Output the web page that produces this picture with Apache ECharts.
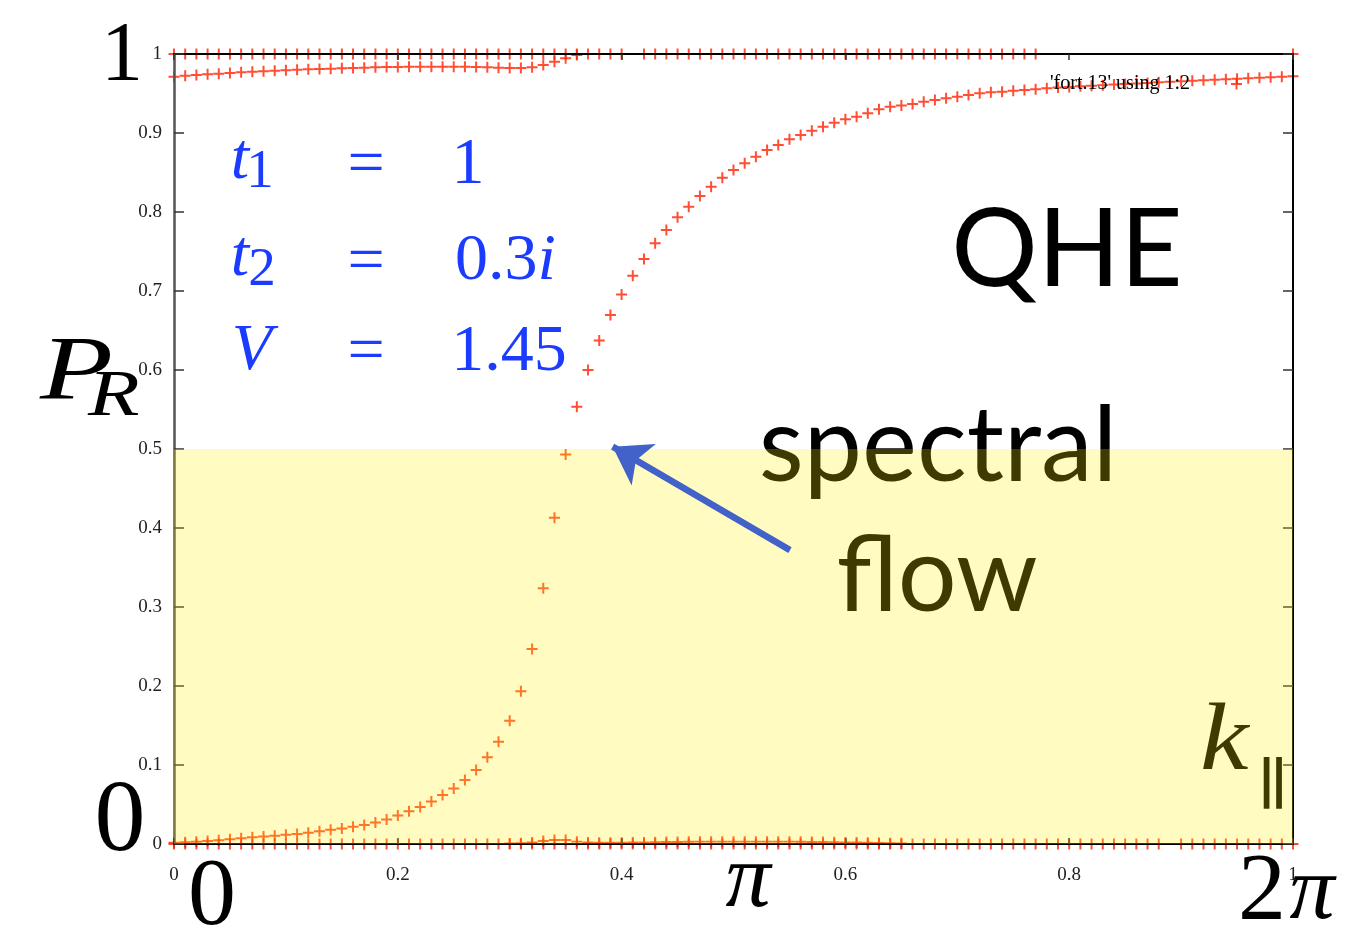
<!DOCTYPE html>
<html><head><meta charset="utf-8">
<script src="https://cdn.jsdelivr.net/npm/echarts@6/dist/echarts.min.js"></script>
<style>html,body{margin:0;padding:0;background:#fff}#c{width:1356px;height:930px}</style>
</head><body><div id="c"></div>
<script>
// k grid (x values, fraction of 2π)
const kGrid = [0,0.01,0.02,0.03,0.04,0.05,0.06,0.07,0.08,0.09,
 0.10,0.11,0.12,0.13,0.14,0.15,0.16,0.17,0.18,0.19,
 0.20,0.21,0.22,0.23,0.24,0.25,0.26,0.27,0.28,0.29,
 0.30,0.31,0.32,0.33,0.34,0.35,0.36,0.37,0.38,0.39,
 0.40,0.41,0.42,0.43,0.44,0.45,0.46,0.47,0.48,0.49,
 0.50,0.51,0.52,0.53,0.54,0.55,0.56,0.57,0.58,0.59,
 0.60,0.61,0.62,0.63,0.64,0.65,0.66,0.67,0.68,0.69,
 0.70,0.71,0.72,0.73,0.74,0.75,0.76,0.77,0.78,0.79,
 0.80,0.81,0.82,0.83,0.84,0.85,0.86,0.87,0.88,0.89,
 0.90,0.91,0.92,0.93,0.94,0.95,0.96,0.97,0.98,0.99,1.00];

// P_R of the state pinned at 1
const bandTop = [1,1,1,1,1,1,1,1,1,1, 1,1,1,1,1,1,1,1,1,1, 1,1,1,1,1,1,1,1,1,1, 1,1,1,1,1,1,1,1,1,1,
 1,null,1,1,1,1,1,1,1,1, 1,1,1,1,1,1,1,1,1,1, 1,1,1,1,1,1,1,1,1,1, 1,1,1,1,1,1,1,1,null,null,
 null,null,null,null,null,null,null,null,null,null, null,null,null,null,null,null,null,null,null,null, 1];
// upper state near 0.97 merging into 1 (starts at k index 0)
const bandUpper = [0.9713,0.9726,0.9734,0.9743,0.9751,0.9759,0.9768,0.9776,0.9781,0.9789,
 0.9793,0.9802,0.9806,0.9810,0.9814,0.9819,0.9823,0.9827,0.9831,0.9835,
 0.9835,0.9840,0.9840,0.9840,0.9840,0.9840,0.9840,0.9835,0.9831,0.9827,
 0.9823,0.9823,0.9831,0.9861,0.9903,0.9945,0.9987];
// spectral-flow state
const bandFlow = [0.0016,0.0022,0.0029,0.0038,0.0047,0.0059,0.0072,0.0085,0.0095,0.0105,
 0.0116,0.0127,0.0143,0.0162,0.0180,0.0196,0.0218,0.0241,0.0272,0.0310,
 0.0361,0.0415,0.0468,0.0538,0.0620,0.0703,0.0810,0.0937,0.1097,0.1295,
 0.1561,0.1933,0.2468,0.3237,0.4130,0.4930,0.5535,0.6000,0.6373,0.6696,
 0.6956,0.7194,0.7405,0.7604,0.7772,0.7933,0.8067,0.8203,0.8320,0.8434,
 0.8532,0.8616,0.8700,0.8785,0.8848,0.8920,0.8975,0.9029,0.9080,0.9130,
 0.9173,0.9206,0.9249,0.9300,0.9333,0.9348,0.9367,0.9396,0.9418,0.9439,
 0.9459,0.9481,0.9503,0.9515,0.9523,0.9535,0.9544,0.9553,0.9566,0.9575,
 0.9582,0.9591,0.9599,0.9606,0.9614,0.9620,0.9628,0.9634,0.9642,0.9648,
 0.9654,0.9661,0.9667,0.9673,0.9680,0.9686,0.9692,0.9699,0.9705,0.9711,0.9718];
// state pinned at 0
const bandZero = [0,0,0,0,0,0,0,0,0,0, 0,0,0,0,0,0,0,0,0,0, 0,0,0,0,0,0,0,0,0,0, 0,0,0,0,0,0,0,0,0,0,
 0,0,0,0,0,0,0,0,0,0, 0,0,0,0,0,0,0,0,0,0, 0,0,0,0,0,0,0,0,0,0, 0,0,0,0,0,0,0,0,0,0,
 0,0,0,0,0,0,0,0,0,null, 0,0,0,0,0,0,0,0,0,0, 0];
// small bump near 0 (starts at k index 30)
const bumpStart = 30;
const bandBump = [0.0005,0.0010,0.0020,0.0038,0.0050,0.0050,0.0030,0.0018,0.0015,0.0015,
 0.0016,0.0018,0.0020,0.0022,0.0024,0.0026,0.0028,0.0030,0.0030,0.0030,
 0.0030,0.0030,0.0030,0.0030,0.0030,0.0030,0.0028,0.0026,0.0024,0.0022,
 0.0020,0.0018,0.0015,0.0012,0.0010,0.0008];

const xTickLabels = ['0','0.2','0.4','0.6','0.8','1'];
const yTickLabels = ['0','0.1','0.2','0.3','0.4','0.5','0.6','0.7','0.8','0.9','1'];
const seriesName = "'fort.13' using 1:2";

function toPts(arr, start) {
  const out = [];
  arr.forEach((v, j) => { if (v !== null) out.push([kGrid[start + j], v]); });
  return out;
}
const allPts = [].concat(toPts(bandZero,0), toPts(bandBump,bumpStart), toPts(bandFlow,0), toPts(bandUpper,0), toPts(bandTop,0));

const plus = 'path://M4.1,0H5.9V4.1H10V5.9H5.9V10H4.1V5.9H0V4.1H4.1Z';
const SERIF = '"Liberation Serif", "DejaVu Serif", serif';
const SANS = 'Lato, "Open Sans", sans-serif';
const BLUE = '#1b3cff';

function T(x, y, text, size, opts) {
  opts = opts || {};
  return {
    type: 'text', z: opts.z || 3, silent: true,
    x: x, y: y, scaleX: opts.sx || 1, originX: 0, originY: 0,
    style: {
      text: text, fontSize: size, fontFamily: opts.family || SERIF,
      fontStyle: opts.italic ? 'italic' : 'normal',
      fill: opts.color || '#000', align: opts.align || 'center', verticalAlign: 'middle'
    }
  };
}

const chart = echarts.init(document.getElementById('c'));
chart.setOption({
  animation: false,
  backgroundColor: '#fff',
  grid: { left: 174, right: 63, top: 54, bottom: 86 },
  legend: {
    data: [{ name: seriesName, icon: plus }],
    right: 114, top: 74, align: 'right', padding: 0,
    itemWidth: 11, itemHeight: 11,
    textStyle: { fontFamily: SERIF, fontSize: 20, color: '#000', padding: [0, 36, 0, 0] }
  },
  xAxis: [{
    type: 'value', min: 0, max: 1, interval: 0.2, z: 5,
    axisLine: { show: true, onZero: false, lineStyle: { color: '#000', width: 2 } },
    axisTick: { show: true, inside: true, length: 6, lineStyle: { color: '#333', width: 1.5 } },
    axisLabel: { margin: 22, fontFamily: SERIF, fontSize: 19, color: '#222',
      formatter: v => xTickLabels[Math.round(v / 0.2)] },
    splitLine: { show: false }
  }, {
    type: 'value', min: 0, max: 1, interval: 0.2, position: 'top', z: 5,
    axisLine: { show: true, onZero: false, lineStyle: { color: '#000', width: 2 } },
    axisTick: { show: true, inside: true, length: 6, lineStyle: { color: '#333', width: 1.5 } },
    axisLabel: { show: false }, splitLine: { show: false }
  }],
  yAxis: [{
    type: 'value', min: 0, max: 1, interval: 0.1, z: 5,
    axisLine: { show: true, onZero: false, lineStyle: { color: '#555', width: 2.5 } },
    axisTick: { show: true, inside: true, length: 10, lineStyle: { color: '#333', width: 1.5 } },
    axisLabel: { margin: 12, fontFamily: SERIF, fontSize: 19, color: '#222',
      formatter: v => yTickLabels[Math.round(v * 10)] },
    splitLine: { show: false }
  }, {
    type: 'value', min: 0, max: 1, interval: 0.1, position: 'right', z: 5,
    axisLine: { show: true, onZero: false, lineStyle: { color: '#000', width: 2 } },
    axisTick: { show: true, inside: true, length: 10, lineStyle: { color: '#333', width: 1.5 } },
    axisLabel: { show: false }, splitLine: { show: false }
  }],
  series: [{
    name: seriesName, type: 'scatter', data: allPts, z: 2, silent: true,
    symbol: plus, symbolSize: 11, itemStyle: { color: '#ff2200' }
  }, {
    name: 'overlay', type: 'line', data: [[0, 0]], z: 10, silent: true,
    symbol: 'none', lineStyle: { width: 0, opacity: 0 },
    markArea: {
      z: 10, silent: true,
      itemStyle: { color: 'rgba(255,240,0,0.245)' },
      label: { show: false },
      data: [[{ xAxis: 0, yAxis: 0 }, { xAxis: 1, yAxis: 0.5 }]]
    },
    markLine: {
      z: 12, silent: true, symbol: ['none', 'arrow'], symbolSize: 36,
      lineStyle: { color: '#4261c9', width: 6.5, type: 'solid' },
      label: { show: false },
      data: [[{ coord: [0.5505, 0.372] }, { coord: [0.392, 0.503] }]]
    }
  }],
  graphic: [
    // axis value annotations
    T(122, 58, '1', 84),
    T(120, 823, '0', 102),
    T(40, 375, 'P', 92, { italic: true, sx: 1.3, align: 'left' }),
    T(88, 398, 'R', 65, { italic: true, sx: 1.3, align: 'left' }),
    T(212, 899, '0', 96),
    T(748, 882, 'π', 90, { italic: true }),
    T(1262, 894, '2', 96),
    T(1312, 894, 'π', 90, { italic: true }),
    // parameters
    T(240, 161, 't', 66, { italic: true, color: BLUE }),
    T(260, 173, '1', 55, { color: BLUE }),
    T(366, 167, '=', 66, { color: BLUE }),
    T(468, 166, '1', 66, { color: BLUE }),
    T(240, 258, 't', 66, { italic: true, color: BLUE }),
    T(262, 271, '2', 55, { color: BLUE }),
    T(366, 264, '=', 66, { color: BLUE }),
    { type: 'text', z: 3, silent: true, x: 455, y: 262,
      style: { text: '{a|0.3}{b|i}', fontSize: 66, fontFamily: SERIF, fill: BLUE, align: 'left', verticalAlign: 'middle',
        rich: { a: { fontSize: 66, fontFamily: SERIF, fill: BLUE }, b: { fontSize: 66, fontFamily: SERIF, fontStyle: 'italic', fill: BLUE } } } },
    T(252, 352, 'V', 66, { italic: true, color: BLUE }),
    T(366, 354, '=', 66, { color: BLUE }),
    T(509, 353, '1.45', 66, { color: BLUE }),
    // labels
    T(1067, 251, 'QHE', 108, { family: SANS }),
    T(938, 447, 'spectral', 104, { family: SANS }),
    T(937, 577, 'flow', 104, { family: SANS }),
    T(1200, 744, 'k', 95, { italic: true, sx: 1.15, align: 'left' }),
    T(1256, 788, '∥', 56, { family: '"DejaVu Serif", serif', sx: 1.3, align: 'left' })
  ]
});
</script>
</body></html>
